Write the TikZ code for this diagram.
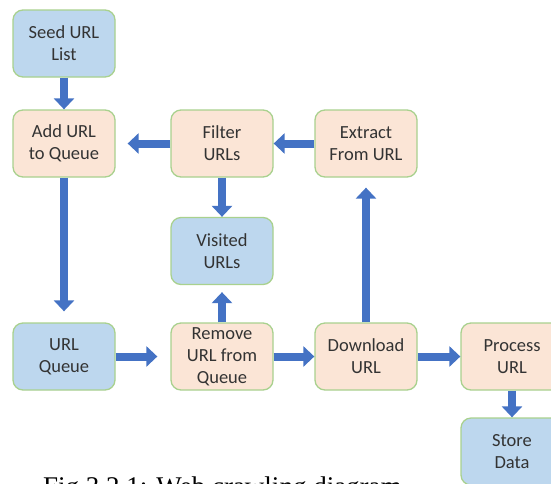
\documentclass[tikz,border=0pt]{standalone}
\usepackage{fontspec}
\setmainfont{Carlito}
\newfontfamily\captionserif{Liberation Serif}
\usetikzlibrary{arrows.meta}
\definecolor{boxblue}{HTML}{BDD7EE}
\definecolor{boxpeach}{HTML}{FBE5D6}
\definecolor{boxedge}{HTML}{A9D18E}
\definecolor{flowblue}{HTML}{4472C4}
\definecolor{labelgray}{HTML}{333333}
\begin{document}
\begin{tikzpicture}[x=1pt,y=-1pt,
  stage/.style={draw=boxedge, line width=1.3pt, rounded corners=10pt,
    minimum width=102pt, minimum height=67pt, align=center, inner sep=2pt,
    font=\fontsize{18.5}{22}\selectfont, text=labelgray},
  bluebox/.style={stage, fill=boxblue},
  peachbox/.style={stage, fill=boxpeach},
  flow/.style={draw=flowblue, line width=8pt,
    -{Triangle[width=20pt,length=11pt,fill=flowblue]}}]
\clip (0,0) rectangle (551,483);
\useasboundingbox (0,0) rectangle (551,483);
\fill[white] (0,0) rectangle (551,483);

% stages
\node[bluebox]  (seed)     at (64,43.5)   {Seed URL\\List};
\node[peachbox] (add)      at (64,143.5)  {Add URL\\to Queue};
\node[peachbox] (filter)   at (222,143.5) {Filter\\URLs};
\node[peachbox] (extract)  at (366,143.5) {Extract\\From URL};
\node[bluebox]  (visited)  at (222,251)   {Visited\\URLs};
\node[bluebox]  (queue)    at (64,356.5)  {URL\\Queue};
\node[peachbox] (remove)   at (222,356.5) {Remove\\URL from\\Queue};
\node[peachbox] (download) at (366,356.5) {Download\\URL};
\node[peachbox] (process)  at (512,356.5) {Process\\URL};
\node[bluebox]  (store)    at (512,451.5) {Store\\Data};

% flow between stages
\draw[flow] (seed.south) -- (add.north);
\draw[flow, shorten >=12pt] (filter.west) -- (add.east);
\draw[flow] (extract.west) -- (filter.east);
\draw[flow] (filter.south) -- (visited.north);
\draw[flow, shorten >=11pt] (add.south) -- (queue.north);
\draw[flow, shorten >=13pt] (queue.east) -- (remove.west);
\draw[flow, shorten >=7pt] (remove.north) -- (visited.south);
\draw[flow] (remove.east) -- (download.west);
\draw[flow, shorten >=10pt] (download.north) -- (extract.south);
\draw[flow] (download.east) -- (process.west);
\draw[flow] (process.south) -- (store.north);

% caption, running past the lower edge
\node[anchor=base west, inner sep=0pt, font=\captionserif\fontsize{27}{30}\selectfont]
  (caption) at (43,495) {Fig 3.2.1: Web crawling diagram};
\end{tikzpicture}
\end{document}
